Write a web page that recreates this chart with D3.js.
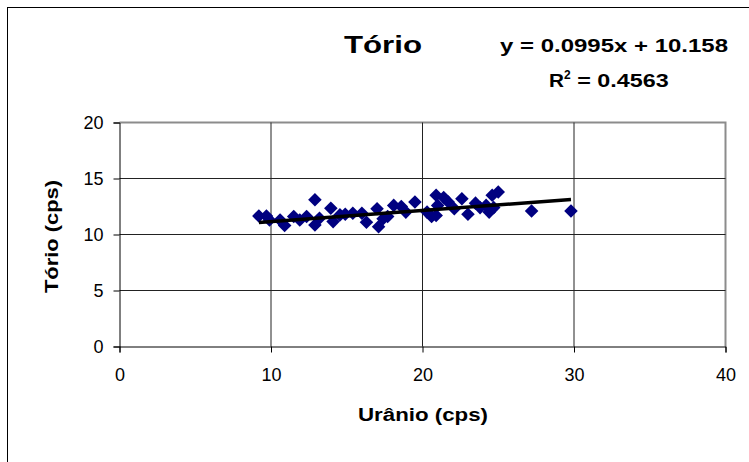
<!DOCTYPE html>
<html>
<head>
<meta charset="utf-8">
<script src="https://cdn.jsdelivr.net/npm/d3@7"></script>
<style>
  html, body { margin: 0; padding: 0; background: #fff; }
  svg { display: block; font-family: Arial, "Liberation Sans", sans-serif; }
</style>
</head>
<body>
<svg id="chart" width="749" height="462"></svg>
<script>
// Urânio (x) vs Tório (y) counts, cps
const uranio = [9.2, 9.7, 9.9, 10.6, 10.9, 11.5, 11.9, 12.35, 12.9, 12.9,
                13.2, 13.95, 14.1, 14.55, 14.9, 15.4, 16.0, 16.3, 17.0, 17.1,
                17.4, 17.7, 18.1, 18.6, 18.9, 19.5, 20.3, 20.6, 20.9, 20.9,
                21.0, 21.4, 21.7, 22.1, 22.6, 23.0, 23.5, 23.8, 24.2, 24.4,
                24.6, 24.7, 25.0, 27.2, 29.8];
const torio  = [11.65, 11.65, 11.3, 11.3, 10.8, 11.6, 11.3, 11.6, 13.1, 10.85,
                11.45, 12.35, 11.15, 11.75, 11.8, 11.9, 11.9, 11.1, 12.3, 10.7,
                11.4, 11.6, 12.6, 12.5, 12.0, 12.9, 12.0, 11.6, 13.5, 11.7,
                12.6, 13.3, 12.9, 12.3, 13.2, 11.8, 12.8, 12.4, 12.6, 12.0,
                13.5, 12.4, 13.8, 12.1, 12.1];

// Linear trend reported on the chart
const slope = 0.0995;
const intercept = 10.158;
const rSquared = "0.4563";

const xTicks = [0, 10, 20, 30, 40];
const yTicks = [0, 5, 10, 15, 20];

const svg = d3.select("#chart");

// outer chart frame
svg.append("rect")
  .attr("x", 7.5).attr("y", 7.5)
  .attr("width", 800).attr("height", 500)
  .attr("fill", "none").attr("stroke", "#000").attr("stroke-width", 1);

const plot = { left: 119.5, right: 725.5, top: 122.5, bottom: 346.5 };

const x = d3.scaleLinear().domain([0, 40]).range([plot.left, plot.right]);
const y = d3.scaleLinear().domain([0, 20]).range([plot.bottom, plot.top]);

// plot-area border (grey, top and right)
svg.append("path")
  .attr("d", `M${plot.left},${plot.top}H${plot.right}V${plot.bottom}`)
  .attr("fill", "none").attr("stroke", "#8c8c8c").attr("stroke-width", 2);

// gridlines
svg.append("g").selectAll("line")
  .data(yTicks.filter(v => v > 0 && v < 20))
  .join("line")
  .attr("x1", plot.left).attr("x2", plot.right)
  .attr("y1", d => y(d)).attr("y2", d => y(d))
  .attr("stroke", "#222").attr("stroke-width", 1);

svg.append("g").selectAll("line")
  .data(xTicks.filter(v => v > 0 && v < 40))
  .join("line")
  .attr("x1", d => x(d)).attr("x2", d => x(d))
  .attr("y1", plot.top).attr("y2", plot.bottom)
  .attr("stroke", "#222").attr("stroke-width", 1);

// axes
const yAxis = svg.append("g")
  .attr("transform", `translate(${plot.left},0)`)
  .call(d3.axisLeft(y).tickValues(yTicks).tickSize(6).tickPadding(10));
const xAxis = svg.append("g")
  .attr("transform", `translate(0,${plot.bottom})`)
  .call(d3.axisBottom(x).tickValues(xTicks).tickSize(6).tickPadding(16));

[xAxis, yAxis].forEach(g => {
  g.select(".domain").attr("stroke", "#000").attr("stroke-width", 1);
  g.selectAll(".tick line").attr("stroke", "#000");
  g.selectAll(".tick text")
    .attr("fill", "#000")
    .style("font-size", "18px")
    .style("font-family", "Arial, 'Liberation Sans', sans-serif");
});

// data points: navy diamonds
const diamond = d3.symbol().type(d3.symbolSquare).size(92);
svg.append("g").selectAll("path")
  .data(uranio.map((u, i) => [u, torio[i]]))
  .join("path")
  .attr("d", diamond)
  .attr("transform", d => `translate(${x(d[0])},${y(d[1])}) rotate(45)`)
  .attr("fill", "#000080");

// trend line across the data range
const xMin = d3.min(uranio), xMax = d3.max(uranio);
svg.append("line")
  .attr("x1", x(xMin)).attr("y1", y(slope * xMin + intercept))
  .attr("x2", x(xMax)).attr("y2", y(slope * xMax + intercept))
  .attr("stroke", "#000").attr("stroke-width", 3.5);

// bold text helper with a fixed drawn width
function boldText(px, py, size, width, str) {
  return svg.append("text")
    .attr("x", px).attr("y", py)
    .attr("textLength", width).attr("lengthAdjust", "spacingAndGlyphs")
    .style("font-size", size + "px").style("font-weight", "bold")
    .text(str);
}

// title
boldText(344, 53, 23, 78, "Tório");

// trend equation and R²
boldText(500, 52, 19, 228, `y = ${slope}x + ${intercept}`);

const r2 = svg.append("text")
  .attr("x", 549).attr("y", 87)
  .style("font-size", "19px").style("font-weight", "bold");
r2.append("tspan").attr("textLength", 15).attr("lengthAdjust", "spacingAndGlyphs").text("R");
r2.append("tspan").attr("dy", -8).style("font-size", "12px").text("2");
r2.append("tspan").attr("dy", 8)
  .attr("textLength", 98).attr("lengthAdjust", "spacingAndGlyphs")
  .text(` = ${rSquared}`);

// axis titles
boldText(358, 421, 18, 130, "Urânio (cps)");

svg.append("text")
  .attr("transform", "translate(58,293) rotate(-90)")
  .attr("textLength", 113).attr("lengthAdjust", "spacingAndGlyphs")
  .style("font-size", "19px").style("font-weight", "bold")
  .text("Tório (cps)");
</script>
</body>
</html>
